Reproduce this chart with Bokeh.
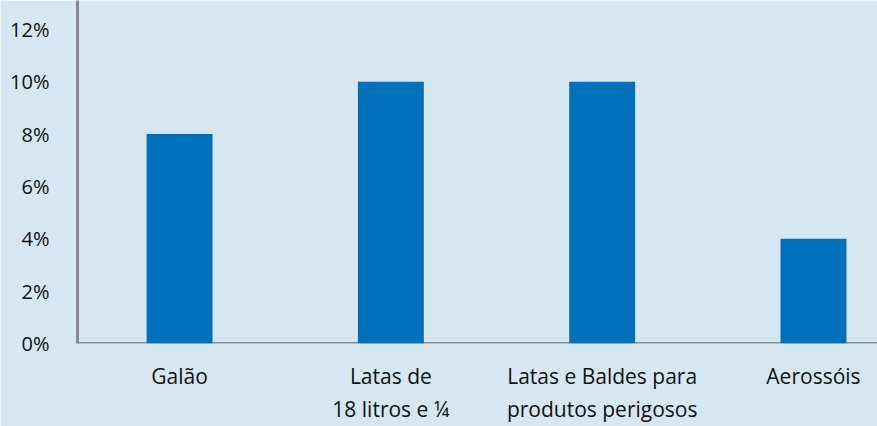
from bokeh.plotting import figure
from bokeh.models import Range1d, FixedTicker, PrintfTickFormatter, Span
from bokeh.embed import file_html
from bokeh.resources import INLINE

categories = ["Galão", "Latas de\n18 litros e ¼", "Latas e Baldes para\nprodutos perigosos", "Aerossóis"]
values = [8, 10, 10, 4]
y_ticks = [0, 2, 4, 6, 8, 10, 12]

BG = "#d5e7f1"
BAR = "#0070ba"
AXIS = "#8a8b8f"
FONT = "Open Sans"

xs = list(range(len(categories)))

p = figure(width=877, height=426, output_backend="svg", toolbar_location=None,
           x_range=Range1d(-0.483, 3.303), y_range=Range1d(0, 13.1),
           min_border_left=77, min_border_right=0, min_border_top=0, min_border_bottom=0)
p.background_fill_color = BG
p.border_fill_color = BG
p.outline_line_color = None
p.grid.visible = False

p.add_layout(Span(location=0, dimension="width", line_color=AXIS, line_width=3, level="underlay"))
p.vbar(x=xs, top=values, width=0.312, bottom=0, fill_color=BAR, line_color=None)

xa = p.xaxis[0]
xa.ticker = FixedTicker(ticks=xs)
xa.major_label_overrides = {i: c for i, c in enumerate(categories)}
xa.major_tick_line_color = None
xa.minor_tick_line_color = None
xa.major_tick_out = 0
xa.major_tick_in = 0
xa.axis_line_color = None
xa.major_label_standoff = 18
xa.major_label_text_font = FONT
xa.major_label_text_font_size = "21px"
xa.major_label_text_color = "#111111"

ya = p.yaxis[0]
ya.ticker = FixedTicker(ticks=y_ticks)
ya.formatter = PrintfTickFormatter(format="%d%%")
ya.major_tick_line_color = None
ya.minor_tick_line_color = None
ya.axis_line_color = AXIS
ya.axis_line_width = 3
ya.major_label_standoff = 22
ya.major_label_text_font = FONT
ya.major_label_text_font_size = "20px"
ya.major_label_text_color = "#111111"

open("out.html", "w").write(file_html(p, INLINE))
